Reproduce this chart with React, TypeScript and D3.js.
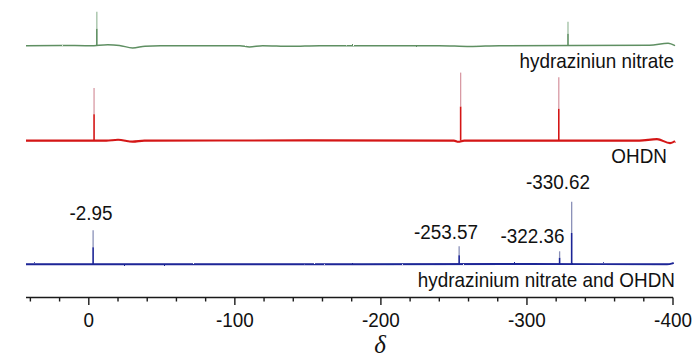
import React from "react";
import * as d3 from "d3";

// x axis (chemical shift, ppm), reversed
const xDomain: [number, number] = [43, -400];
const majorTicks = [0, -100, -200, -300, -400];
const minorTicks = [40, 20, -20, -40, -60, -80, -120, -140, -160, -180, -220, -240, -260, -280, -320, -340, -360, -380];
const axisLabel = "δ";

// series names
const seriesNames = ["hydraziniun nitrate", "OHDN", "hydrazinium nitrate and OHDN"];

// peaks: [shift, height]
const peaksHN: [number, number][] = [[-5.5, 34], [-328.1, 24]];
const peaksOHDN: [number, number][] = [[-3.6, 52.5], [-254.6, 68], [-321.8, 63.4]];
const peaksMix: [number, number][] = [[-2.95, 34], [-253.57, 18], [-322.36, 13], [-330.62, 62.6]];

// peak labels for mixture
const mixLabels = ["-2.95", "-253.57", "-322.36", "-330.62"];

// baselines: [shift, offset]
const baseHN: [number, number][] = [
  [43, 0], [20, 0.2], [-1, 0], [-13, 1], [-21, 0.3], [-30, -2.3], [-38.5, -0.5], [-49, 0],
  [-103.5, 0], [-110, -1.2], [-119, 0], [-138, -0.6], [-158, 0], [-240, 0], [-261, -0.8],
  [-281, 0], [-384, 0.5], [-396.6, 2.5], [-401.4, 0],
];
const baseOHDN: [number, number][] = [
  [43, 0], [-12, 0], [-20, 0.8], [-30, -1], [-38, 0], [-150, 0.2], [-250, 0], [-253, -1.2],
  [-257, 0], [-377, 0], [-389, 1.5], [-398, -2.5], [-401.4, -0.5],
];
const baseMix: [number, number][] = [
  [43, 0], [-150, 0], [-300, 0.3], [-396, 0], [-399, 0.6], [-400.5, 1.5],
];

const W = 700, H = 358;
const x = d3.scaleLinear().domain(xDomain).range([26, 673]);

const FONT = "'Liberation Sans', Arial, sans-serif";

type Trace = {
  base: [number, number][];
  peaks: [number, number][];
  y0: number;
  color: string;
  pale: string;
  width: number;
};

const traces: Trace[] = [
  { base: baseHN, peaks: peaksHN, y0: 45.7, color: "#5e8f62", pale: "#9fbfa2", width: 1.5 },
  { base: baseOHDN, peaks: peaksOHDN, y0: 140.6, color: "#d41515", pale: "#d89aa4", width: 2.1 },
  { base: baseMix, peaks: peaksMix, y0: 264.3, color: "#1c2596", pale: "#8a90b8", width: 1.9 },
];

function TraceView({ t }: { t: Trace }) {
  const y = d3.scaleLinear().domain([0, 100]).range([t.y0, t.y0 - 100]);
  const line = d3
    .line<[number, number]>()
    .x((d) => x(d[0]))
    .y((d) => y(d[1]))
    .curve(d3.curveMonotoneX);
  return (
    <g>
      <path d={line(t.base) || ""} fill="none" stroke={t.color} strokeWidth={t.width} filter="url(#rough)" />
      {t.peaks.map(([s, h], k) => (
        <g key={k}>
          <line x1={x(s)} x2={x(s)} y1={y(h * 0.5)} y2={y(h)} stroke={t.pale} strokeWidth={1.3} />
          <line x1={x(s)} x2={x(s)} y1={y(0)} y2={y(h * 0.5)} stroke={t.color} strokeWidth={1.6} />
        </g>
      ))}
    </g>
  );
}

export default function App() {
  const axisY = 297.5;
  const labelPos: { x: number; y: number }[] = [
    { x: 91, y: 220 },
    { x: 446, y: 238.5 },
    { x: 532.5, y: 242.7 },
    { x: 558, y: 189.3 },
  ];
  const seriesLabelPos = [
    { x: 674, y: 68 },
    { x: 667, y: 162.7 },
    { x: 675, y: 287.3 },
  ];
  const sx = 0.9;
  const fs = 21;
  return (
    <svg width={W} height={H} style={{ position: "absolute", left: 0, top: 0, background: "#fff" }}>
      <defs>
        <filter id="rough" x="-2%" y="-100%" width="104%" height="300%">
          <feTurbulence type="fractalNoise" baseFrequency="0.9" numOctaves="1" seed="3" result="n" />
          <feDisplacementMap in="SourceGraphic" in2="n" scale="1.8" xChannelSelector="R" yChannelSelector="G" />
        </filter>
      </defs>
      <rect width={W} height={H} fill="#fff" />
      {traces.map((t, i) => (
        <TraceView key={i} t={t} />
      ))}
      {seriesNames.map((n, i) => (
        <text
          key={n}
          transform={`translate(${seriesLabelPos[i].x},${seriesLabelPos[i].y}) scale(${sx},1)`}
          textAnchor="end"
          fontFamily={FONT}
          fontSize={fs}
          fill="#111"
        >
          {n}
        </text>
      ))}
      {mixLabels.map((l, i) => (
        <text
          key={l}
          transform={`translate(${labelPos[i].x},${labelPos[i].y}) scale(${sx},1)`}
          textAnchor="middle"
          fontFamily={FONT}
          fontSize={fs}
          fill="#111"
        >
          {l}
        </text>
      ))}
      <line x1={x(xDomain[0])} x2={x(xDomain[1])} y1={axisY} y2={axisY} stroke="#1a1a1a" strokeWidth={1.5} />
      {minorTicks.map((v) => (
        <line key={v} x1={x(v)} x2={x(v)} y1={axisY} y2={axisY + 4} stroke="#1a1a1a" strokeWidth={1.4} />
      ))}
      {majorTicks.map((v) => (
        <g key={v}>
          <line x1={x(v)} x2={x(v)} y1={axisY} y2={axisY + 7.5} stroke="#1a1a1a" strokeWidth={1.4} />
          <text
            transform={`translate(${x(v)},326.5) scale(${sx},1)`}
            textAnchor="middle"
            fontFamily={FONT}
            fontSize={fs}
            fill="#111"
          >
            {String(v)}
          </text>
        </g>
      ))}
      <text x={380} y={353} textAnchor="middle" fontFamily="'Liberation Serif', 'Times New Roman', serif" fontStyle="italic" fontSize={25} fill="#111">
        {axisLabel}
      </text>
    </svg>
  );
}
